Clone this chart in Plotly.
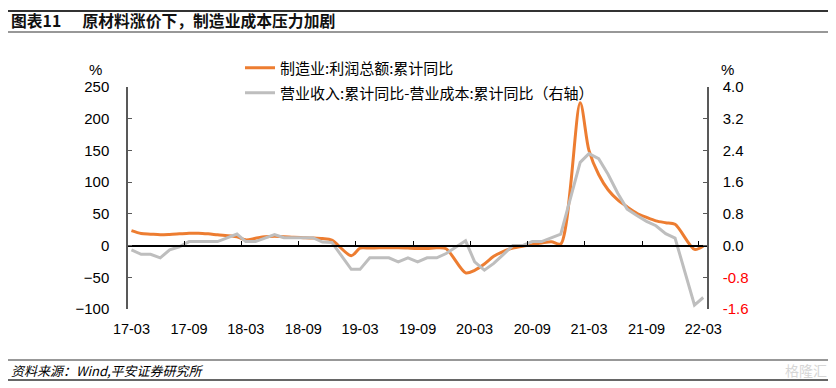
import pandas as pd
import plotly.graph_objects as go

# ---------------- data ----------------
months = [
    "2017-03", "2017-04", "2017-05", "2017-06", "2017-07", "2017-08", "2017-09", "2017-10", "2017-11", "2017-12",
    "2018-02", "2018-03", "2018-04", "2018-05", "2018-06", "2018-07", "2018-08", "2018-09", "2018-10", "2018-11", "2018-12",
    "2019-02", "2019-03", "2019-04", "2019-05", "2019-06", "2019-07", "2019-08", "2019-09", "2019-10", "2019-11", "2019-12",
    "2020-02", "2020-03", "2020-04", "2020-05", "2020-06", "2020-07", "2020-08", "2020-09", "2020-10", "2020-11", "2020-12",
    "2021-02", "2021-03", "2021-04", "2021-05", "2021-06", "2021-07", "2021-08", "2021-09", "2021-10", "2021-11", "2021-12",
    "2022-02", "2022-03",
]

# 制造业:利润总额:累计同比 (%, left axis)
profit_yoy = [
    23.5, 19.0, 18.0, 17.0, 17.5, 18.5, 19.5, 19.5, 18.5, 17.0,
    14.0, 9.0, 11.5, 14.0, 14.5, 14.0, 13.0, 12.5, 12.0, 11.0, 8.5,
    -16.0, -4.0, -4.0, -3.5, -3.5, -3.5, -4.0, -4.5, -4.5, -3.5, -5.0,
    -43.0, -39.0, -29.0, -17.0, -9.0, -4.0, -1.0, 1.5, 4.0, 6.0, 2.5,
    225.0, 150.0, 112.0, 88.0, 72.0, 61.0, 51.0, 44.5, 39.0, 36.0, 33.5,
    -6.0, -0.5,
]

# 营业收入:累计同比-营业成本:累计同比 (%, right axis)
spread_yoy = [
    -0.11, -0.22, -0.22, -0.31, -0.11, -0.03, 0.10, 0.10, 0.10, 0.10,
    0.29, 0.10, 0.10, 0.19, 0.28, 0.20, 0.20, 0.20, 0.20, 0.09, 0.08,
    -0.60, -0.60, -0.31, -0.31, -0.31, -0.41, -0.31, -0.41, -0.31, -0.31, -0.20,
    0.12, -0.41, -0.62, -0.45, -0.22, 0.00, 0.00, 0.10, 0.10, 0.19, 0.29,
    2.10, 2.32, 2.19, 1.80, 1.32, 0.92, 0.76, 0.61, 0.50, 0.30, 0.19,
    -1.50, -1.31,
]

left_ticks = [-100, -50, 0, 50, 100, 150, 200, 250]
right_ticks = [-1.6, -0.8, 0.0, 0.8, 1.6, 2.4, 3.2, 4.0]
x_tick_labels = ["17-03", "17-09", "18-03", "18-09", "19-03", "19-09",
                 "20-03", "20-09", "21-03", "21-09", "22-03"]

series_names = ["制造业:利润总额:累计同比", "营业收入:累计同比-营业成本:累计同比（右轴）"]
title_text = "<b>图表11</b>      <b>原材料涨价下，制造业成本压力加剧</b>"
source_text = "资料来源：Wind,平安证券研究所"

# ---------------- geometry (page pixels; the page body has an 8px margin) ----------------
OFF = 8
PAGE_W, PAGE_H = 836, 388
W, H = PAGE_W - OFF, PAGE_H - OFF
PLOT_L, PLOT_R, PLOT_T, PLOT_B = 128, 707, 87, 309   # plot area in page px
ML, MR = PLOT_L - OFF, W - (PLOT_R - OFF)
MT, MB = PLOT_T - OFF, H - (PLOT_B - OFF)
PW, PH = PLOT_R - PLOT_L, PLOT_B - PLOT_T

ORANGE = "#ED7D31"
GRAY = "#BEBEBE"
AXIS = "#595959"
NUM_FONT = "Arial, Liberation Sans, sans-serif"
CJK_FONT = "Noto Sans CJK SC, sans-serif"


def px2x(px):
    return (px - PLOT_L) / PW


def py2y(py):
    return (PLOT_B - py) / PH


x_dates = pd.to_datetime(months)
tick_dates = pd.to_datetime(["20" + t for t in x_tick_labels])
boundary_dates = tick_dates - pd.Timedelta(days=14)

fig = go.Figure()
fig.add_trace(go.Scatter(
    x=x_dates, y=profit_yoy, name=series_names[0], mode="lines",
    line=dict(color=ORANGE, width=3, shape="spline", smoothing=0.8),
    xaxis="x", yaxis="y", legend="legend",
))
fig.add_trace(go.Scatter(
    x=x_dates, y=spread_yoy, name=series_names[1], mode="lines",
    line=dict(color=GRAY, width=3),
    xaxis="x", yaxis="y2", legend="legend2",
))
# invisible helper trace so the zero-line axis (x2) is rendered
fig.add_trace(go.Scatter(
    x=[x_dates[0]], y=[0], mode="markers", marker=dict(opacity=0),
    xaxis="x2", yaxis="y", showlegend=False, hoverinfo="skip",
))

x_range = [pd.Timestamp("2017-02-18"), pd.Timestamp("2022-03-13")]

right_text = []
for v in right_ticks:
    s = f"{v:.1f}"
    if v < 0:
        s = f'<span style="color:#FF0000">{s}</span>'
    right_text.append(s)

fig.update_layout(
    width=W, height=H,
    margin=dict(l=ML, r=MR, t=MT, b=MB, pad=0),
    paper_bgcolor="white", plot_bgcolor="white",
    showlegend=True,
    xaxis=dict(
        type="date", range=x_range,
        tickmode="array", tickvals=tick_dates, ticktext=x_tick_labels,
        ticks="", showline=False, showgrid=False, zeroline=False,
        tickfont=dict(family=NUM_FONT, size=14.5, color="#000"),
        ticklabelstandoff=9,
    ),
    xaxis2=dict(
        type="date", overlaying="x", matches="x", anchor="free",
        position=100 / 350,
        tickmode="array", tickvals=boundary_dates,
        showticklabels=False, ticks="inside", ticklen=4, tickwidth=1.3,
        tickcolor="#000", showline=True, linecolor="#000", linewidth=1.5,
        showgrid=False, zeroline=False,
    ),
    yaxis=dict(
        range=[-100, 250], tickmode="array", tickvals=left_ticks,
        ticks="inside", ticklen=4, tickwidth=1.3, tickcolor=AXIS,
        showline=True, linecolor=AXIS, linewidth=1.5,
        showgrid=False, zeroline=False,
        tickfont=dict(family=NUM_FONT, size=15, color="#000"),
        ticklabelstandoff=14,
    ),
    yaxis2=dict(
        range=[-1.6, 4.0], overlaying="y", side="right",
        tickmode="array", tickvals=right_ticks, ticktext=right_text,
        ticks="inside", ticklen=4, tickwidth=1.3, tickcolor=AXIS,
        showline=True, linecolor=AXIS, linewidth=1.5,
        showgrid=False, zeroline=False,
        tickfont=dict(family=NUM_FONT, size=15, color="#000"),
        ticklabelstandoff=11,
    ),
    legend=dict(
        x=px2x(240), y=py2y(68), xanchor="left", yanchor="middle",
        bgcolor="rgba(0,0,0,0)", borderwidth=0,
        font=dict(family=CJK_FONT, size=15, color="#000"),
    ),
    legend2=dict(
        x=px2x(240), y=py2y(93), xanchor="left", yanchor="middle",
        bgcolor="rgba(0,0,0,0)", borderwidth=0,
        font=dict(family=CJK_FONT, size=15, color="#000"),
    ),
)

annotations = [
    dict(text="%", x=px2x(95), y=py2y(70), xanchor="center",
         font=dict(family=NUM_FONT, size=15, color="#000")),
    dict(text="%", x=px2x(727), y=py2y(70), xanchor="center",
         font=dict(family=NUM_FONT, size=15, color="#000")),
    dict(text=title_text, x=px2x(9), y=py2y(21), xanchor="left",
         font=dict(family=CJK_FONT, size=15.8, color="#111")),
    dict(text=source_text, x=px2x(9), y=py2y(370), xanchor="left",
         font=dict(family=CJK_FONT, size=13, color="#000", style="italic")),
    dict(text="格隆汇", x=px2x(829), y=py2y(370), xanchor="right",
         font=dict(family=CJK_FONT, size=14, color="#D6D6D6")),
]
for a in annotations:
    a.update(xref="paper", yref="paper", yanchor="middle", showarrow=False)
fig.update_layout(annotations=annotations)

shapes = []
for py, lw in [(11, 2.2), (32, 1.2), (360, 1.2), (380, 1.4)]:
    shapes.append(dict(type="line", xref="paper", yref="paper",
                       x0=px2x(OFF), x1=px2x(828), y0=py2y(py), y1=py2y(py),
                       line=dict(color="#333", width=lw)))
fig.update_layout(shapes=shapes)

fig.write_html("out.html")
